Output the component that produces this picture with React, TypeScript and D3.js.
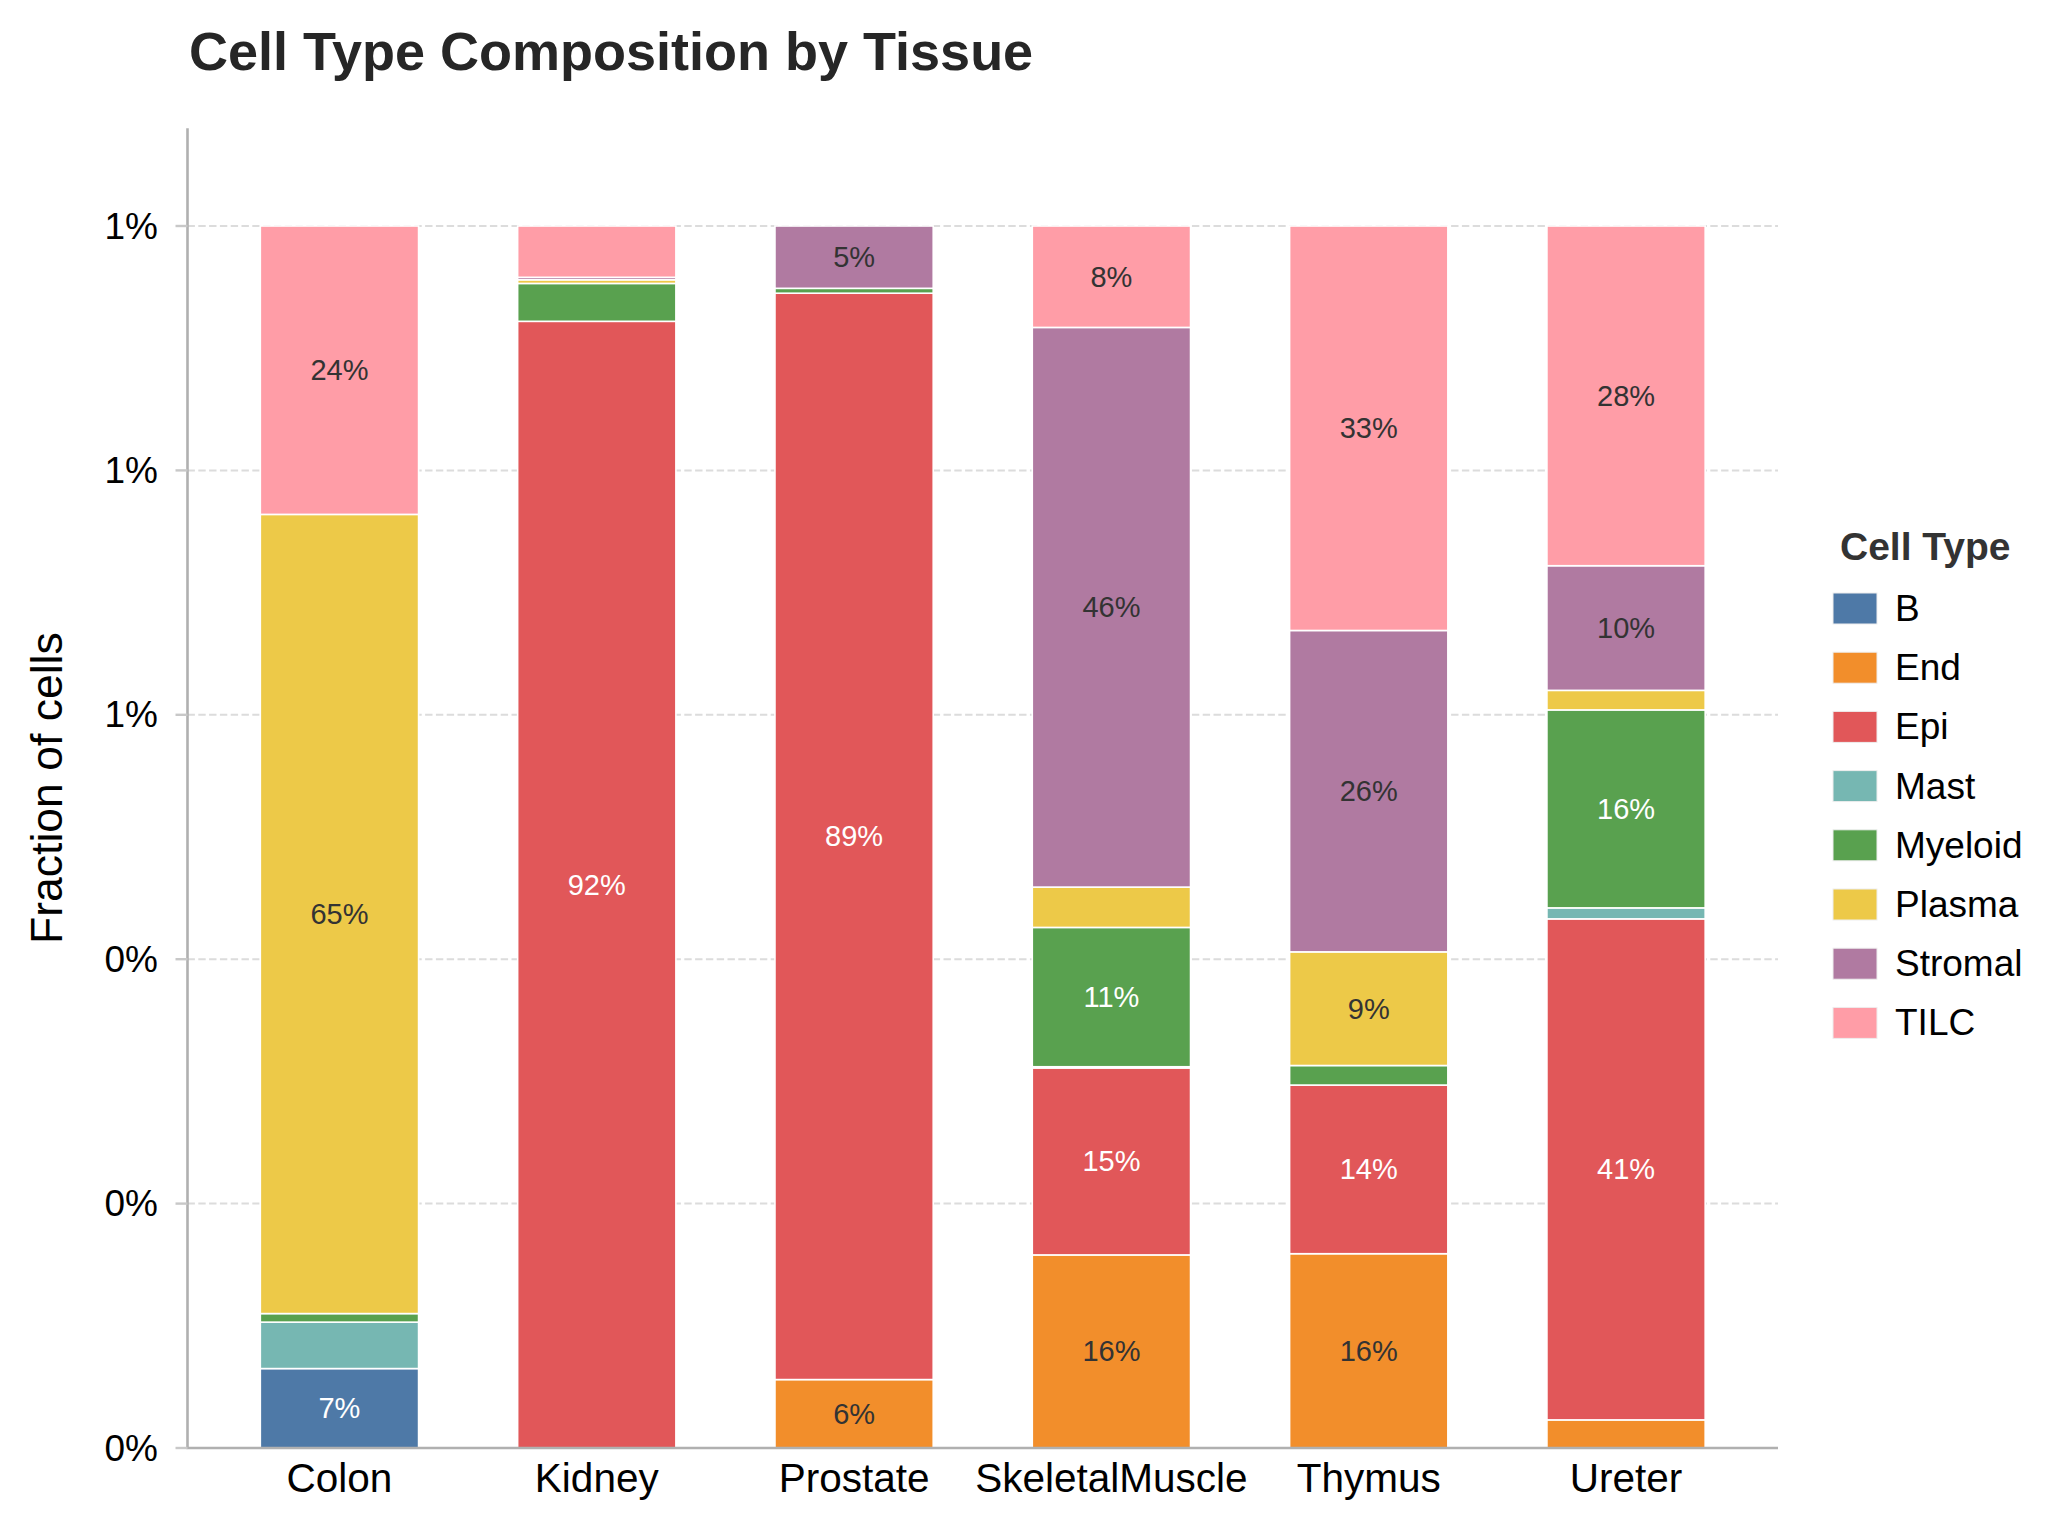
import React from "react";
import * as d3 from "d3";

const tissues = ["Colon", "Kidney", "Prostate", "SkeletalMuscle", "Thymus", "Ureter"];
const cellTypes = ["B", "End", "Epi", "Mast", "Myeloid", "Plasma", "Stromal", "TILC"];

const B = [0.065, 0, 0, 0, 0, 0];
const End = [0, 0, 0.056, 0.158, 0.159, 0.023];
const Epi = [0, 0.922, 0.889, 0.153, 0.138, 0.41];
const Mast = [0.038, 0, 0, 0.001, 0, 0.009];
const Myeloid = [0.007, 0.031, 0.004, 0.114, 0.016, 0.162];
const Plasma = [0.654, 0.003, 0, 0.033, 0.093, 0.016];
const Stromal = [0, 0.002, 0.051, 0.458, 0.263, 0.102];
const TILC = [0.236, 0.042, 0, 0.083, 0.331, 0.278];

const seriesValues: Record<string, number[]> = { B, End, Epi, Mast, Myeloid, Plasma, Stromal, TILC };

const palette = ["#4e79a7", "#f28e2b", "#e15759", "#76b7b2", "#59a14f", "#edc948", "#b07aa1", "#ff9da7"];
const whiteLabelTypes = ["B", "Epi", "Myeloid"];

const yTicks = [0, 0.2, 0.4, 0.6, 0.8, 1.0];

const W = 2069;
const H = 1530;
const FONT = "'Liberation Sans', Arial, Helvetica, sans-serif";

export default function App() {
  const left = 187.5;
  const right = 1778;
  const bottom = 1448;
  const pxPerUnit = 1222;
  const yMax = 1.08;

  const x = d3.scaleBand<string>().domain(tissues).range([left, right]).paddingInner(0.385).paddingOuter(0.283);
  const y = d3.scaleLinear().domain([0, yMax]).range([bottom, bottom - yMax * pxPerUnit]);
  const color = d3.scaleOrdinal<string, string>().domain(cellTypes).range(palette);

  const rows = tissues.map((t, i) => {
    const r: Record<string, any> = { tissue: t };
    cellTypes.forEach((c) => (r[c] = seriesValues[c][i]));
    return r;
  });
  const stacked = d3.stack<any>().keys(cellTypes)(rows);

  const bw = x.bandwidth();
  const fmtTick = (v: number) => `${Math.round(v)}%`;
  const fmtPct = (v: number) => `${Math.round(v * 100)}%`;

  const legendX = 1833;
  const legendY0 = 593;
  const legendStep = 59.2;

  return (
    <svg
      width={W}
      height={H}
      viewBox={`0 0 ${W} ${H}`}
      style={{ position: "fixed", left: 0, top: 0, background: "#fff" }}
      fontFamily={FONT}
    >
      <rect x={0} y={0} width={W} height={H} fill="#fff" />
      {/* title */}
      <text x={189} y={70} fontSize={54} fontWeight="bold" fill="#262626">
        Cell Type Composition by Tissue
      </text>

      {/* gridlines */}
      {yTicks.map((t) => (
        <line
          key={"g" + t}
          x1={left}
          x2={right}
          y1={y(t)}
          y2={y(t)}
          stroke="#dcdcdc"
          strokeWidth={2}
          strokeDasharray="7.4 3.4"
        />
      ))}

      {/* bars */}
      {stacked.map((layer) => (
        <g key={layer.key} fill={color(layer.key)}>
          {layer.map((d, i) => {
            const h = y(d[0]) - y(d[1]);
            if (d[1] - d[0] <= 0) return null;
            return (
              <rect
                key={i}
                x={x(d.data.tissue)!}
                y={y(d[1])}
                width={bw}
                height={h}
                stroke="#ffffff"
                strokeWidth={1.6}
              />
            );
          })}
        </g>
      ))}

      {/* labels in bars */}
      {stacked.map((layer) =>
        layer.map((d, i) => {
          const v = d[1] - d[0];
          if (v < 0.05) return null;
          return (
            <text
              key={layer.key + "l" + i}
              x={x(d.data.tissue)! + bw / 2}
              y={y((d[0] + d[1]) / 2)}
              textAnchor="middle"
              dominantBaseline="central"
              fontSize={29}
              fill={whiteLabelTypes.includes(layer.key) ? "#ffffff" : "#333333"}
            >
              {fmtPct(v)}
            </text>
          );
        })
      )}

      {/* spines */}
      <line x1={left} x2={left} y1={y(yMax)} y2={bottom + 1} stroke="#b0b0b0" strokeWidth={2.6} />
      <line x1={left - 1} x2={right} y1={bottom} y2={bottom} stroke="#b0b0b0" strokeWidth={2.6} />

      {/* y ticks */}
      {yTicks.map((t) => (
        <g key={"t" + t}>
          <line x1={left - 12} x2={left} y1={y(t)} y2={y(t)} stroke="#c8c8c8" strokeWidth={2.4} />
          <text
            x={158}
            y={y(t)}
            textAnchor="end"
            dominantBaseline="central"
            fontSize={37}
            fill="#000"
          >
            {fmtTick(t)}
          </text>
        </g>
      ))}

      {/* x tick labels */}
      {tissues.map((t) => (
        <text key={"x" + t} x={x(t)! + bw / 2} y={1492} textAnchor="middle" fontSize={40.5} fill="#000">
          {t}
        </text>
      ))}

      {/* y axis label */}
      <text
        transform={`translate(62, ${(y(yMax) + bottom) / 2}) rotate(-90)`}
        textAnchor="middle"
        fontSize={44.5}
        fill="#000"
      >
        Fraction of cells
      </text>

      {/* legend */}
      <text x={1840} y={560} fontSize={39} fontWeight="bold" fill="#333333">
        Cell Type
      </text>
      {cellTypes.map((c, i) => (
        <g key={"lg" + c}>
          <rect
            x={legendX}
            y={legendY0 + i * legendStep}
            width={44}
            height={31}
            fill={color(c)}
            stroke="#eeeeee"
            strokeWidth={1}
          />
          <text
            x={1895}
            y={legendY0 + i * legendStep + 15.5}
            dominantBaseline="central"
            fontSize={37}
            fill="#000"
          >
            {c}
          </text>
        </g>
      ))}
    </svg>
  );
}
